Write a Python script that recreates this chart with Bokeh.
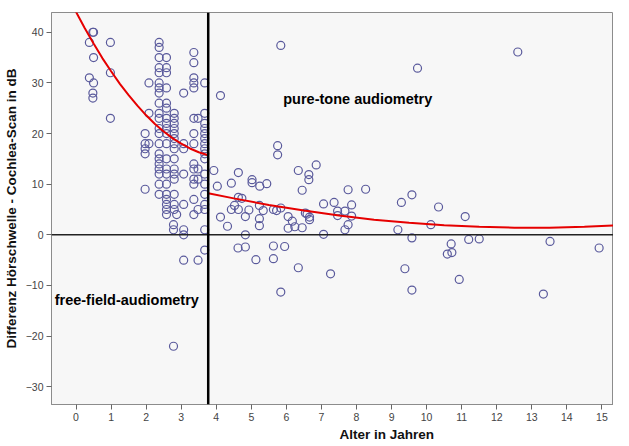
from bokeh.plotting import figure
from bokeh.models import Label, Span, FixedTicker, Title
from bokeh.embed import file_html
from bokeh.resources import INLINE

# ---- data ----
# free-field group (age < ~3.8 years)
ff_age = [0.48, 0.50, 0.38, 0.50, 0.38, 0.50, 0.48, 0.48, 0.98, 0.98, 0.98,
          1.97, 1.97, 1.97, 1.97, 1.97, 2.08, 2.08, 2.08,
          2.37, 2.37, 2.37, 2.37, 2.37, 2.37, 2.37, 2.37, 2.37, 2.37, 2.37,
          2.37, 2.37, 2.37, 2.37, 2.37, 2.37, 2.37, 2.37, 2.37, 2.37,
          2.58, 2.58, 2.58, 2.58, 2.58, 2.58, 2.58, 2.58, 2.58, 2.58,
          2.58, 2.58, 2.58, 2.58, 2.58, 2.58, 2.58, 2.58, 2.58, 2.58,
          2.80, 2.80, 2.80, 2.80, 2.80, 2.80, 2.80, 2.80, 2.80, 2.80,
          2.80, 2.80, 2.80, 2.80, 2.80, 2.87, 2.78, 2.78, 2.78,
          3.07, 3.07, 3.07, 3.07, 3.07, 3.07, 3.07, 3.07,
          3.36, 3.36, 3.36, 3.36, 3.36, 3.36, 3.36, 3.36, 3.36, 3.36,
          3.36, 3.36, 3.36, 3.36,
          3.48, 3.48, 3.48, 3.48, 3.48,
          3.67, 3.67, 3.67, 3.67, 3.67, 3.67, 3.67, 3.67, 3.67, 3.67,
          3.67, 3.67, 3.67, 3.67, 3.67, 3.67, 3.67]
ff_diff = [40, 40, 38, 35, 31, 30, 28, 27, 38, 32, 23,
           20, 18, 17, 16, 9, 30, 24, 18,
           38, 37, 35, 33, 32, 30, 29, 28, 26, 24, 23,
           21, 20, 18, 16, 15, 14, 13, 12, 10, 8,
           35, 33, 32, 29, 26, 25, 23, 22, 21, 20,
           18, 15, 13, 12, 10, 8, 7, 6, 5, 4,
           24, 23, 22, 21, 20, 19, 18, 17, 15, 13,
           12, 11, 8, 6, 5, 4, 2, 1, -22,
           28, 18, 17, 12, 6, 1, 0, -5,
           36, 34, 31, 30, 29, 23, 20, 18, 14, 13,
           11, 10, 7, 4,
           23, 13, 11, 5, -5,
           30, 24, 22, 21, 20, 19, 18, 17, 16, 15,
           12, 10, 8, 6, 5, 1, -3]

# pure-tone group (age > ~3.8 years)
pt_age = [4.12, 5.84, 9.74, 12.60, 5.75, 5.75, 6.85, 6.34, 3.93, 4.63,
          6.64, 6.64, 5.02, 5.02, 4.43, 5.24, 5.44, 4.03, 6.45, 7.76,
          8.26, 9.28, 9.58, 4.63, 4.73, 4.52, 4.43, 4.63, 4.93, 5.23,
          5.34, 5.63, 5.72, 5.84, 7.06, 7.36, 7.86, 7.46, 7.67, 7.86,
          4.83, 4.12, 6.05, 6.59, 6.66, 6.66, 4.32, 4.62, 4.83, 4.83,
          5.13, 5.23, 5.23, 5.63, 5.63, 5.84, 5.95, 6.17, 6.05, 6.24,
          6.34, 6.45, 6.54, 7.06, 7.26, 7.46, 7.67, 7.76, 9.18, 9.38,
          9.58, 9.58, 10.34, 11.10, 10.12, 10.70, 10.59, 10.72, 11.20, 11.50,
          10.93, 13.52, 13.33, 14.92]
pt_diff = [27.5, 37.4, 32.9, 36.1, 17.6, 15.8, 13.8, 12.7, 12.7, 12.3,
           11.9, 10.9, 10.9, 10.3, 10.2, 9.6, 10.1, 9.6, 8.8, 8.9,
           9.0, 6.4, 7.9, 7.4, 7.2, 5.8, 5.0, 5.0, 4.9, 5.8,
           4.8, 5.0, 4.8, 5.3, 6.1, 6.4, 5.9, 4.7, 4.7, 3.7,
           3.6, 3.5, 3.6, 4.1, 3.5, 3.0, 1.7, -2.6, -2.4, 0.0,
           -4.9, 3.2, 1.8, -2.2, -4.7, -11.3, -2.3, 2.7, 1.3, 1.6,
           -6.5, 1.4, 4.3, 0.1, -7.7, 3.8, 1.0, 2.0, 1.0, -6.7,
           -0.6, -10.9, 5.5, 3.6, 2.0, -1.8, -3.8, -3.5, -0.9, -0.8,
           -8.8, -1.3, -11.7, -2.6]

# fitted curves
fit_ff_x = [-0.10, 0.25, 0.50, 0.75, 1.00, 1.25, 1.50, 1.75, 2.00, 2.25,
            2.50, 2.75, 3.00, 3.25, 3.50, 3.77]
fit_ff_y = [45.3, 40.8, 37.8, 34.9, 32.3, 29.8, 27.6, 25.5, 23.6, 21.9,
            20.4, 19.1, 18.0, 17.05, 16.3, 15.7]
fit_pt_x = [3.77, 4.5, 5.5, 6.5, 7.5, 8.5, 9.5, 10.5, 11.5, 12.5,
            13.5, 14.5, 15.6]
fit_pt_y = [8.2, 7.2, 5.9, 4.8, 3.8, 3.0, 2.4, 1.9, 1.6, 1.4,
            1.4, 1.6, 1.9]

split_age = 3.77
x_ticks = list(range(0, 16))
y_ticks = [-30, -20, -10, 0, 10, 20, 30, 40]

FONT = "Liberation Sans"

p = figure(width=613, height=444, x_range=(-0.70, 15.33), y_range=(-33.5, 43.9),
           output_backend="svg", toolbar_location=None,
           min_border_left=43, min_border_right=0, min_border_top=12,
           min_border_bottom=40)
p.background_fill_color = "#f7f7f7"
p.border_fill_color = "white"
p.outline_line_color = "#8c8c8c"
p.grid.visible = False

for ax in (p.xaxis, p.yaxis):
    ax.axis_line_color = "#8c8c8c"
    ax.major_tick_line_color = "#666666"
    ax.major_tick_out = 5
    ax.major_tick_in = 0
    ax.minor_tick_line_color = None
    ax.major_label_text_font = FONT
    ax.major_label_text_font_size = "10.5px"
    ax.major_label_text_color = "#444444"
    ax.major_label_standoff = 3

p.xaxis.ticker = FixedTicker(ticks=x_ticks)
p.yaxis.ticker = FixedTicker(ticks=y_ticks)

p.yaxis.axis_label = "Differenz Hörschwelle - Cochlea-Scan in dB"
p.yaxis.axis_label_text_font = FONT
p.yaxis.axis_label_text_font_style = "bold"
p.yaxis.axis_label_text_font_size = "13.5px"
p.yaxis.axis_label_text_color = "#111111"
p.yaxis.axis_label_standoff = 4

# x axis title, placed right of centre like in the original
p.add_layout(Title(text="Alter in Jahren", align="left", offset=288, standoff=2,
                   text_font=FONT, text_font_style="bold", text_font_size="13.5px",
                   text_color="#111111"), "below")

# reference lines
p.add_layout(Span(location=0, dimension="width", line_color="#222222", line_width=1.5))
p.add_layout(Span(location=split_age, dimension="height", line_color="black", line_width=2.5))

# scatter
p.scatter(ff_age, ff_diff, marker="circle", size=8, fill_color=None,
          line_color="#5a5a9c", line_width=1.2)
p.scatter(pt_age, pt_diff, marker="circle", size=8, fill_color=None,
          line_color="#5a5a9c", line_width=1.2)

# fits
p.line(fit_ff_x, fit_ff_y, line_color="#e60000", line_width=2)
p.line(fit_pt_x, fit_pt_y, line_color="#e60000", line_width=2)

# annotations
p.add_layout(Label(x=5.91, y=26.9, text="pure-tone audiometry", text_font=FONT,
                   text_font_style="bold", text_font_size="14.5px",
                   text_baseline="middle", text_color="black"))
p.add_layout(Label(x=-0.61, y=-12.8, text="free-field-audiometry", text_font=FONT,
                   text_font_style="bold", text_font_size="14.5px",
                   text_baseline="middle", text_color="black"))

open("out.html", "w").write(file_html(p, INLINE))
